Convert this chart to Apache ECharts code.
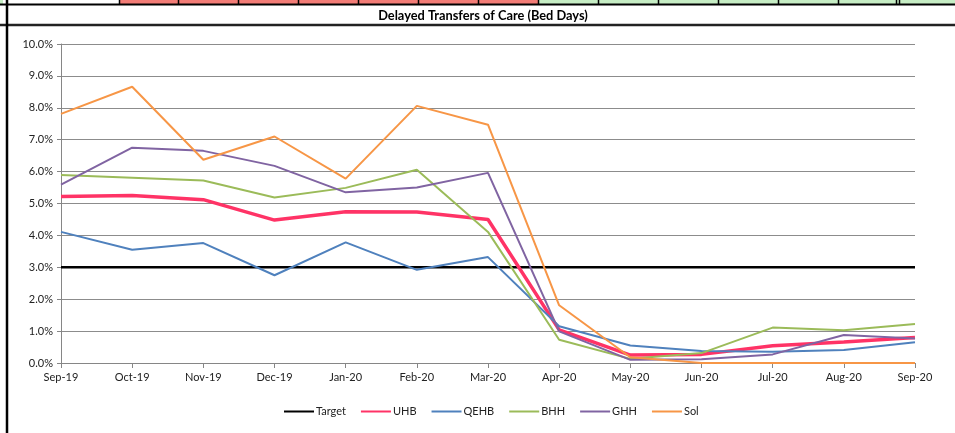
<!DOCTYPE html>
<html>
<head>
<meta charset="utf-8">
<script src="https://cdn.jsdelivr.net/npm/echarts@6/dist/echarts.min.js"></script>
<style>
html,body{margin:0;padding:0;background:#fff;}
#chart{width:955px;height:433px;}
</style>
</head>
<body>
<div id="chart"></div>
<script>
const categories = ['Sep-19','Oct-19','Nov-19','Dec-19','Jan-20','Feb-20','Mar-20','Apr-20','May-20','Jun-20','Jul-20','Aug-20','Sep-20'];
const targetVals = [3,3,3,3,3,3,3,3,3,3,3,3,3];
const uhbVals  = [5.22,5.25,5.12,4.48,4.74,4.73,4.50,1.04,0.25,0.27,0.54,0.66,0.80];
const qehbVals = [4.11,3.55,3.76,2.75,3.78,2.92,3.32,1.15,0.55,0.38,0.35,0.41,0.65];
const bhhVals  = [5.89,5.81,5.72,5.19,5.49,6.06,4.11,0.73,0.13,0.31,1.11,1.03,1.22];
const ghhVals  = [5.59,6.75,6.65,6.18,5.35,5.50,5.96,0.99,0.10,0.12,0.27,0.88,0.77];
const solVals  = [7.81,8.66,6.37,7.10,5.78,8.06,7.47,1.81,0.18,0.00,0.00,0.00,0.00];
const yTicks = [0,1,2,3,4,5,6,7,8,9,10];
const titleText = 'Delayed Transfers of Care (Bed Days)';

const FONT = 'Lato';
const chart = echarts.init(document.getElementById('chart'), null, {renderer:'canvas'});

// spreadsheet frame decoration
const frame = [];
const redColor = '#F27C76', greenColor = '#C6EDC4';
frame.push({type:'rect', shape:{x:0,y:0,width:3,height:4}, style:{fill:greenColor}, silent:true});
frame.push({type:'rect', shape:{x:120,y:0,width:418,height:4}, style:{fill:redColor}, silent:true});
frame.push({type:'rect', shape:{x:539,y:0,width:416,height:4}, style:{fill:greenColor}, silent:true});
[119,178,238,298,358,418,478,538,598,658,718,778,838,896,899].forEach(function(x){
  frame.push({type:'line', shape:{x1:x+0.5,y1:0,x2:x+0.5,y2:4}, style:{stroke:'#000',lineWidth:1.5}, silent:true});
});
frame.push({type:'line', shape:{x1:0,y1:4.5,x2:955,y2:4.5}, style:{stroke:'#000',lineWidth:2}, silent:true});
frame.push({type:'line', shape:{x1:0,y1:25,x2:955,y2:25}, style:{stroke:'#222',lineWidth:2.5}, silent:true});
frame.push({type:'line', shape:{x1:7,y1:0,x2:7,y2:433}, style:{stroke:'#000',lineWidth:2.5}, silent:true});
frame.push({type:'text', x:483, y:16, style:{text:titleText, fontFamily:FONT, fontWeight:'bold', fontSize:12.8, fill:'#000', align:'center', verticalAlign:'middle'}, silent:true});

function ser(name, data, color, width, z){
  return {name:name, type:'line', data:data, symbol:'none', z:z,
    lineStyle:{color:color, width:width}, itemStyle:{color:color}, emphasis:{disabled:true}};
}

chart.setOption({
  animation:false,
  backgroundColor:'#fff',
  graphic: frame,
  grid:{left:61, right:40, top:44, bottom:70, containLabel:false},
  legend:{
    left:278, top:401, itemWidth:30, itemHeight:12, itemGap:14,
    itemStyle:{opacity:0},
    textStyle:{fontFamily:FONT, fontSize:11, color:'#222', padding:[0,0,0,-3]},
    data:['Target','UHB','QEHB','BHH','GHH','Sol']
  },
  xAxis:{
    type:'category', data:categories, boundaryGap:false,
    axisLine:{lineStyle:{color:'#868686', width:1}},
    axisTick:{show:true, length:5, lineStyle:{color:'#868686'}},
    axisLabel:{fontFamily:FONT, fontSize:11, color:'#222', margin:9, interval:0},
    splitLine:{show:false}
  },
  yAxis:{
    type:'value', min:0, max:10, interval:1,
    axisLine:{show:true, lineStyle:{color:'#868686', width:1}},
    axisTick:{show:true, length:4, lineStyle:{color:'#868686'}},
    axisLabel:{fontFamily:FONT, fontSize:11, color:'#222', margin:8,
      formatter:function(v){return v.toFixed(1)+'%';}},
    splitLine:{show:true, lineStyle:{color:'#8c8c8c', width:1}}
  },
  series:[
    ser('Target', targetVals, '#000000', 2.5, 2),
    ser('UHB', uhbVals, '#FF3366', 3.5, 3),
    ser('QEHB', qehbVals, '#4F81BD', 2, 4),
    ser('BHH', bhhVals, '#9BBB59', 2, 5),
    ser('GHH', ghhVals, '#8064A2', 2, 6),
    ser('Sol', solVals, '#F79646', 2, 7)
  ]
});
</script>
</body>
</html>
